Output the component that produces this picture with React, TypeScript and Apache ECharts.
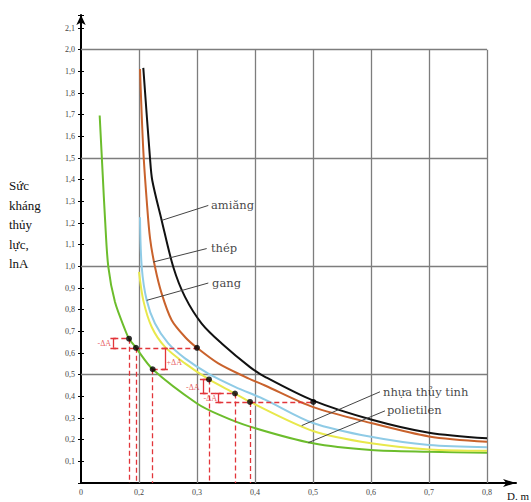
import React, { useEffect, useRef } from 'react';
import * as echarts from 'echarts';

// Curves: [D (m), A]
const amiang = [[0.2074, 1.916], [0.219, 1.498], [0.2229, 1.396], [0.2391, 1.212], [0.2591, 0.997], [0.2793, 0.859], [0.3081, 0.736], [0.3426, 0.644], [0.3914, 0.535], [0.4172, 0.49], [0.5005, 0.38], [0.6, 0.293], [0.7, 0.232], [0.8, 0.206]];
const thep = [[0.2017, 1.911], [0.2074, 1.535], [0.2133, 1.304], [0.219, 1.13], [0.2276, 0.997], [0.2391, 0.874], [0.2564, 0.751], [0.2793, 0.674], [0.3, 0.624], [0.3367, 0.552], [0.3828, 0.49], [0.4172, 0.45], [0.5005, 0.35], [0.6, 0.277], [0.7, 0.215], [0.8, 0.19]];
const gang = [[0.2017, 1.227], [0.2047, 0.997], [0.2133, 0.843], [0.2276, 0.736], [0.2505, 0.644], [0.2793, 0.575], [0.3195, 0.505], [0.3655, 0.444], [0.4172, 0.385], [0.5, 0.277], [0.6, 0.213], [0.7, 0.175], [0.8, 0.165]];
const nhuaThuyTinh = [[0.2, 0.974], [0.2074, 0.843], [0.2219, 0.72], [0.2448, 0.628], [0.2793, 0.552], [0.3207, 0.478], [0.3655, 0.413], [0.3914, 0.374], [0.5, 0.24], [0.6, 0.183], [0.7, 0.155], [0.8, 0.149]];
const polietilen = [[0.1322, 1.696], [0.1375, 1.42], [0.1414, 1.22], [0.1471, 0.997], [0.1586, 0.835], [0.1775, 0.697], [0.1828, 0.666], [0.1948, 0.624], [0.2236, 0.525], [0.3, 0.367], [0.3397, 0.313], [0.3914, 0.26], [0.5, 0.183], [0.6, 0.152], [0.7, 0.144], [0.8, 0.14]];

// Marked points
const dots = [[0.1828, 0.666], [0.1948, 0.624], [0.2236, 0.525], [0.3, 0.624], [0.3207, 0.478], [0.3655, 0.413], [0.3914, 0.374], [0.5005, 0.374]];
const dropDots = [0, 1, 2, 4, 5, 6];

// Red dashed horizontals [x1, x2, y]
const dashH = [[0.1557, 0.3, 0.624], [0.1557, 0.1828, 0.666], [0.2236, 0.2448, 0.525], [0.31, 0.3207, 0.478], [0.31, 0.3655, 0.413], [0.3367, 0.5005, 0.374]];
// ΔA brackets [x, y1, y2]
const brackets = [[0.1557, 0.624, 0.666], [0.2448, 0.525, 0.624], [0.31, 0.413, 0.478], [0.3367, 0.374, 0.413]];
// ΔA texts [x, y, text, side]
const deltaLabels = [[0.152, 0.645, '-ΔA', 'left'], [0.2475, 0.557, '+ΔA', 'right'], [0.3045, 0.442, '-ΔA', 'left'], [0.3345, 0.392, '-ΔA', 'left']];

// Material labels [x, y, text] and leader lines [x1, y1, x2, y2]
const materialLabels = [[0.3241, 1.281, 'amiăng'], [0.3241, 1.083, 'thép'], [0.3259, 0.925, 'gang'], [0.6207, 0.421, 'nhựa thủy tinh'], [0.6276, 0.336, 'polietilen']];
const leaders = [[0.2391, 1.212, 0.3195, 1.281], [0.2247, 1.02, 0.3167, 1.082], [0.2133, 0.843, 0.3195, 0.923], [0.4805, 0.265, 0.6155, 0.421], [0.4919, 0.186, 0.6241, 0.333]];

// Grid lines
const gridYs = [0.5, 1.0, 1.5, 2.0];
const gridXs = [0.2, 0.3, 0.4, 0.5, 0.6, 0.7, 0.8];
const xMin = 0.1, xMax = 0.85, xLast = 0.8;
const yMin = 0, yMax = 2.16, yTop = 2.0;

const RED = '#e2353a';
const SERIF = '"Liberation Serif", "DejaVu Serif", serif';

const fmt = (v: number) => v.toFixed(1).replace('.', ',');

export default function App() {
  const ref = useRef<HTMLDivElement>(null);
  useEffect(() => {
    if (!ref.current) return;
    const chart = echarts.init(ref.current, null, { renderer: 'svg' });

    const curve = (name: string, data: number[][], color: string) => ({
      type: 'line', name, data, smooth: 0.3, showSymbol: false,
      lineStyle: { color, width: 2 }, z: 5, silent: true,
    });

    const gridLines = [
      ...gridYs.map((y) => ({ coords: [[xMin, y], [xLast, y]] })),
      ...gridXs.map((x) => ({ coords: [[x, yMin], [x, yTop]] })),
    ];
    const dashed = [
      ...dropDots.map((i) => ({ coords: [[dots[i][0], dots[i][1]], [dots[i][0], 0]] })),
      ...dashH.map((h) => ({ coords: [[h[0], h[2]], [h[1], h[2]]] })),
    ];
    const cap = 0.005;
    const bracketLines: any[] = [];
    brackets.forEach((b) => {
      bracketLines.push({ coords: [[b[0], b[1]], [b[0], b[2]]] });
      bracketLines.push({ coords: [[b[0] - cap, b[1]], [b[0] + cap, b[1]]] });
      bracketLines.push({ coords: [[b[0] - cap, b[2]], [b[0] + cap, b[2]]] });
    });

    chart.setOption({
      animation: false,
      grid: { left: 81, right: 15, top: 15, bottom: 19 },
      xAxis: {
        type: 'value', min: xMin, max: xMax, interval: 0.1,
        axisLine: { lineStyle: { color: '#000', width: 2 }, symbol: ['none', 'arrow'], symbolSize: [6, 13] },
        axisTick: { show: false },
        splitLine: { show: false },
        axisLabel: {
          fontSize: 8, color: '#444', fontFamily: SERIF, margin: 5,
          formatter: (v: number) => (Math.abs(v - 0.1) < 1e-6 ? '0' : v > 0.81 ? '' : fmt(v)),
        },
      },
      yAxis: [
        {
          type: 'value', min: yMin, max: yMax, interval: 0.1,
          axisLine: { lineStyle: { color: '#000', width: 2 }, symbol: ['none', 'arrow'], symbolSize: [7, 10] },
          axisTick: { show: true, length: 3, lineStyle: { color: '#000', width: 1 } },
          splitLine: { show: false },
          axisLabel: {
            fontSize: 8, color: '#444', fontFamily: SERIF, margin: 6,
            formatter: (v: number) => (v < 0.05 || v > 2.12 ? '' : fmt(v)),
          },
        },
        {
          type: 'value', min: yMin, max: yMax, interval: 0.1, position: 'left',
          axisLine: { show: false },
          axisTick: { show: true, inside: true, length: 3, lineStyle: { color: '#000', width: 1 } },
          splitLine: { show: false },
          axisLabel: { show: false },
        },
      ],
      series: [
        {
          type: 'lines', coordinateSystem: 'cartesian2d', data: gridLines, silent: true, z: 1,
          lineStyle: { color: '#7d7d7d', width: 1.3, opacity: 1 },
        },
        curve('polietilen', polietilen, '#6cbd2c'),
        curve('nhựa thủy tinh', nhuaThuyTinh, '#e8e84c'),
        curve('gang', gang, '#8fcbe6'),
        curve('thép', thep, '#c9622c'),
        curve('amiăng', amiang, '#111111'),
        {
          type: 'lines', coordinateSystem: 'cartesian2d', data: dashed, silent: true, z: 6,
          lineStyle: { color: RED, width: 1.3, type: [5, 3], opacity: 1 },
        },
        {
          type: 'lines', coordinateSystem: 'cartesian2d', data: bracketLines, silent: true, z: 6,
          lineStyle: { color: RED, width: 1.3, opacity: 1 },
        },
        {
          type: 'lines', coordinateSystem: 'cartesian2d', silent: true, z: 6,
          data: leaders.map((l) => ({ coords: [[l[0], l[1]], [l[2], l[3]]] })),
          lineStyle: { color: '#444', width: 1, opacity: 1 },
        },
        {
          type: 'scatter', data: dots, symbol: 'circle', symbolSize: 6, silent: true, z: 8,
          itemStyle: { color: '#000' },
        },
        {
          type: 'scatter', symbolSize: 0, silent: true, z: 9,
          data: materialLabels.map((m) => ({ value: [m[0], m[1]], name: m[2] })),
          label: {
            show: true, position: 'right', distance: 0, formatter: '{b}',
            fontFamily: '"DejaVu Serif", serif', fontSize: 11.5, color: '#111',
          },
        },
        {
          type: 'scatter', symbolSize: 0, silent: true, z: 9,
          data: deltaLabels.map((d) => ({
            value: [d[0], d[1]], name: d[2],
            label: { position: d[3] },
          })),
          label: {
            show: true, distance: 0, formatter: '{b}',
            fontFamily: SERIF, fontSize: 8, color: RED,
          },
        },
      ],
      graphic: [
        {
          type: 'text', left: 9, top: 176,
          style: {
            text: 'Sức\nkháng\nthủy\nlực,\nlnA', fontFamily: SERIF, fontSize: 13, lineHeight: 19.5, fill: '#111',
          },
        },
        {
          type: 'text', left: 507, top: 490,
          style: { text: 'D. m', fontFamily: SERIF, fontSize: 11, fill: '#111' },
        },
      ],
    });
    return () => chart.dispose();
  }, []);
  return <div ref={ref} style={{ position: 'absolute', left: 0, top: 0, width: 531, height: 502, background: '#fff' }} />;
}
